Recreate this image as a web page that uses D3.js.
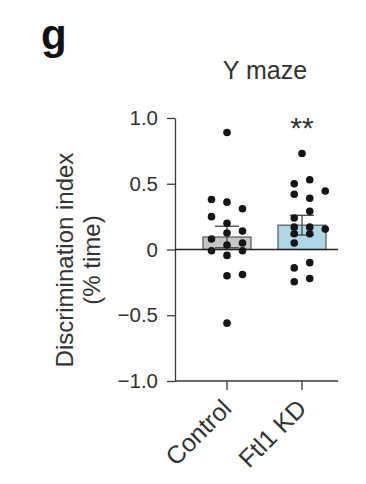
<!DOCTYPE html>
<html><head><meta charset="utf-8">
<script src="https://cdn.jsdelivr.net/npm/d3@7"></script>
<style>
html,body{margin:0;padding:0;background:#fff;}
svg{display:block;}
text{font-family:"Liberation Sans",Arial,sans-serif;}
</style></head>
<body>
<svg id="c" width="366" height="484"></svg>
<script>
// ---- data ----
const categories = ["Control", "Ftl1 KD"];
const barMeans = [0.095, 0.185];
const barSEM = [0.082, 0.075];
const controlValues = [0.89, 0.38, 0.36, 0.31, 0.25, 0.20, 0.125, 0.14, 0.08, 0.05, 0.034, -0.01, -0.01, -0.045, -0.19, -0.20, -0.56];
const controlSlots  = [0, -1, 0, 1, -1, 0, 0, 1, -1, 1, 0, -1, 1, 0, 1, 0, 0];
const ftl1Values = [0.73, 0.50, 0.53, 0.42, 0.39, 0.445, 0.29, 0.24, 0.17, 0.17, 0.155, 0.12, 0.12, 0.05, -0.10, -0.14, -0.245, -0.22];
const ftl1Slots  = [0, -0.5, 0.5, -0.5, 0.5, 1.5, 0.5, -0.5, -0.5, 0.5, 1.5, -0.5, 0.5, -0.5, 0.5, -0.5, -0.5, 0.5];
const yTicks = [-1, -0.5, 0, 0.5, 1];
const yTickLabels = ["\u22121.0", "\u22120.5", "0", "0.5", "1.0"];
const significance = ["", "**"];
const panelLabel = "g";
const title = "Y maze";
const yTitle = ["Discrimination index", "(% time)"];

// ---- layout ----
const svg = d3.select("#c");
const axisColor = "#3a3a3a";
const textColor = "#333";
const barFills = ["#c6c6c6", "#add8e6"];
const axisX = 175, axisRight = 338;

const y = d3.scaleLinear().domain([-1, 1]).range([381, 118]);
const x = d3.scaleBand().domain(categories).range([189.5, 339.5]).padding(0);
const bw = x.bandwidth() * 0.64;
const slotW = 15.5;

// panel label
svg.append("text").attr("x", 41).attr("y", 49).attr("font-size", 42)
  .attr("font-weight", "bold").attr("fill", "#111").text(panelLabel);
// title
svg.append("text").attr("x", 265).attr("y", 79).attr("text-anchor", "middle")
  .attr("font-size", 25).attr("fill", textColor).text(title);

// y axis title
const yt = svg.append("text").attr("transform", "translate(73,260) rotate(-90)")
  .attr("text-anchor", "middle").attr("font-size", 24).attr("fill", textColor);
yTitle.forEach((t, i) => yt.append("tspan").attr("x", 0).attr("dy", i === 0 ? 0 : 27).text(t));

// y axis
const yAxis = d3.axisLeft(y).tickValues(yTicks)
  .tickFormat((d, i) => yTickLabels[i]).tickSize(8).tickPadding(9).tickSizeOuter(0);
const gy = svg.append("g").attr("transform", `translate(${axisX},0)`).call(yAxis);
gy.selectAll("path,line").attr("stroke", axisColor).attr("stroke-width", 1.3);
gy.selectAll("text").attr("font-size", 20.5).attr("fill", textColor)
  .attr("font-family", '"Liberation Sans",Arial,sans-serif');

// bottom axis
const xAxis = d3.axisBottom(x).tickSize(9).tickSizeOuter(0).tickFormat("");
const gx = svg.append("g").attr("transform", `translate(0,${y(-1)})`).call(xAxis);
gx.select(".domain").remove();
gx.selectAll("line").attr("stroke", axisColor).attr("stroke-width", 1.3);
svg.append("line").attr("x1", axisX).attr("x2", axisRight).attr("y1", y(-1)).attr("y2", y(-1))
  .attr("stroke", axisColor).attr("stroke-width", 1.3);
categories.forEach((c, i) => {
  const cx = x(c) + x.bandwidth() / 2;
  svg.append("text").attr("transform", `translate(${cx + 6},${y(-1) + 29}) rotate(-45)`)
    .attr("text-anchor", "end").attr("font-size", 25).attr("fill", textColor).text(c);
});

// bars
categories.forEach((c, i) => {
  const cx = x(c) + x.bandwidth() / 2;
  svg.append("rect").attr("x", cx - bw / 2).attr("width", bw)
    .attr("y", y(barMeans[i])).attr("height", y(0) - y(barMeans[i]))
    .attr("fill", barFills[i]).attr("stroke", "#555").attr("stroke-width", 1.2);
});

// zero line
svg.append("line").attr("x1", axisX).attr("x2", axisRight).attr("y1", y(0)).attr("y2", y(0))
  .attr("stroke", "#222").attr("stroke-width", 1.3);

// error bars
categories.forEach((c, i) => {
  const cx = x(c) + x.bandwidth() / 2;
  const hi = y(barMeans[i] + barSEM[i]), lo = y(barMeans[i] - barSEM[i]);
  const g = svg.append("g").attr("stroke", "#444").attr("stroke-width", 1.3);
  g.append("line").attr("x1", cx).attr("x2", cx).attr("y1", hi).attr("y2", lo);
  g.append("line").attr("x1", cx - 12).attr("x2", cx + 12).attr("y1", hi).attr("y2", hi);
  g.append("line").attr("x1", cx - 12).attr("x2", cx + 12).attr("y1", lo).attr("y2", lo);
});

// dots
const groups = [[controlValues, controlSlots], [ftl1Values, ftl1Slots]];
groups.forEach(([vals, slots], i) => {
  const cx = x(categories[i]) + x.bandwidth() / 2;
  svg.append("g").selectAll("circle").data(vals).join("circle")
    .attr("cx", (d, j) => cx + slots[j] * slotW)
    .attr("cy", d => y(d)).attr("r", 3.8).attr("fill", "#151515");
});

// significance
categories.forEach((c, i) => {
  if (!significance[i]) return;
  const cx = x(c) + x.bandwidth() / 2;
  svg.append("text").attr("x", cx).attr("y", 138).attr("text-anchor", "middle")
    .attr("font-size", 30).attr("fill", textColor).text(significance[i]);
});
</script>
</body></html>
